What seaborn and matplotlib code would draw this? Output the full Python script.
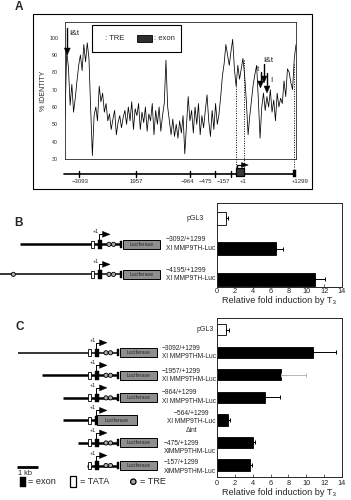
import numpy as np
import pandas as pd
import matplotlib
matplotlib.use('Agg')
import matplotlib.pyplot as plt
import seaborn as sns
from matplotlib.patches import Rectangle, Circle, Polygon

# ---- data ----
# panel A: % identity along the aligned promoter / intron region
identity = [53, 92, 83, 61, 73, 57, 65, 75, 84, 90, 81, 96, 86, 97, 88, 59, 32,
            55, 60, 52, 72, 63, 68, 57, 62, 52, 56, 47, 53, 58, 44, 51, 55, 48, 54,
            58, 50, 60, 52, 63, 47, 59, 55, 62, 47, 57, 51, 60, 46, 56, 52, 62, 44,
            58, 50, 60, 46, 55, 62, 87, 60, 52, 44, 53, 43, 50, 42, 52, 45,
            55, 33, 50, 66, 52, 58, 45, 60, 50, 62, 44, 55, 48, 58, 67, 52, 43, 58,
            47, 62, 50, 56, 66, 78, 85, 96, 90, 84, 92, 99, 82, 72, 84, 76, 82, 88,
            78, 63, 44, 55, 64, 73, 79, 84, 64, 42, 60, 68, 58, 66, 60, 70, 57, 64,
            52, 68, 60, 65, 62, 75, 66, 82, 80, 74, 70, 88, 96]
identity_ticks = [30, 40, 50, 60, 70, 80, 90, 100]
map_labels = ['\u22123093', '1957', '\u2212964', '\u2212475', '\u2212157', '+1', '+1299']

# panel B
b_names = ['pGL3', '\u22123092/+1299\nXl MMP9TH-Luc', '\u22124195/+1299\nXl MMP9TH-Luc']
b_fold = [1.05, 6.6, 10.95]
b_err = [0.2, 0.75, 1.1]

# panel C
c_names = ['pGL3', '\u22123092/+1299\nXl MMP9THM-Luc', '\u22121957/+1299\nXl MMP9THM-Luc',
           '\u2212864/+1299\nXl MMP9THM-Luc', '\u2212564/+1299\nXl MMP9TH-Luc\n\u0394int',
           '\u2212475/+1299\nXlMMP9THM-Luc', '\u2212157/+1299\nXlMMP9THM-Luc']
c_fold = [1.05, 10.7, 7.15, 5.35, 1.25, 4.0, 3.65]
c_err = [0.3, 2.6, 2.8, 1.75, 0.2, 0.3, 0.27]
fold_ticks = [0, 2, 4, 6, 8, 10, 12, 14]

sns.set_style('ticks')
plt.rcParams['font.family'] = ['Liberation Sans', 'DejaVu Sans']

W, H = 351, 500
fig = plt.figure(figsize=(W / 100, H / 100), dpi=100)


def px_axes(l, t, r, b):
    return fig.add_axes([l / W, 1 - b / H, (r - l) / W, (b - t) / H])


# ---------------- panel A ----------------
axA = px_axes(65, 22, 296, 159)
xs = np.arange(len(identity))
sns.lineplot(x=xs, y=identity, ax=axA, color='black', lw=0.55)
axA.set_xlim(0, len(identity) - 1)
axA.set_ylim(30, 109)
axA.set_xticks([])
axA.set_yticks(identity_ticks)
axA.tick_params(axis='y', length=0, pad=5, labelsize=3.8)
for s in axA.spines.values():
    s.set_linewidth(0.6)
axA.set_ylabel('% IDENTITY', fontsize=5)
axA.yaxis.set_label_coords(-0.078, 0.5)

# ---------------- bar panels ----------------
def bar_panel(box, names, vals, errs, width, ylim, err_colors, tick_pad):
    ax = px_axes(*box)
    df = pd.DataFrame({'construct': names, 'fold': vals})
    pal = {n: ('white' if n == 'pGL3' else 'black') for n in names}
    sns.barplot(data=df, x='fold', y='construct', hue='construct', palette=pal,
                width=width, edgecolor='black', linewidth=0.6, errorbar=None,
                legend=False, ax=ax)
    for i, (v, e) in enumerate(zip(vals, errs)):
        ax.errorbar(v, i, xerr=[[0], [e]], color=err_colors[i], lw=0.7,
                    capsize=1.3, capthick=0.7)
    ax.set_xlim(0, 14)
    ax.set_ylim(*ylim)
    ax.set_xticks(fold_ticks)
    ax.set_yticks([])
    ax.set_ylabel('')
    ax.set_xlabel('Relative fold induction by T\u2083', fontsize=6.6, labelpad=0.5)
    ax.tick_params(axis='x', direction='in', length=2, width=0.5, pad=tick_pad, labelsize=5.3)
    for s in ax.spines.values():
        s.set_linewidth(0.7)
    return ax


axB = bar_panel((217, 203, 342, 287), b_names, b_fold, b_err, 0.43, (2.25, -0.5),
                ['black'] * 3, 1)
axC = bar_panel((217, 318, 342, 476.5), c_names, c_fold, c_err, 0.5, (6.51, -0.52),
                ['black', 'black', '#b5b5b5', 'black', 'black', 'black', 'black'], 2.5)

# ---------------- overlay for schematics ----------------
ov = fig.add_axes([0, 0, 1, 1], zorder=10)
ov.set_xlim(0, W)
ov.set_ylim(H, 0)
ov.axis('off')


def row_y(ax, i):
    return H - ax.transData.transform((0, i))[1]


def down_arrow(x, y0, y1, w=3, hl=7):
    ov.plot([x, x], [y0, y1 - hl], color='k', lw=1.0)
    ov.add_patch(Polygon([(x - w, y1 - hl), (x + w, y1 - hl), (x, y1)], closed=True,
                         fc='k', ec='k', lw=0.3))


# outer frame and panel letters
ov.add_patch(Rectangle((33.3, 14), 278.4, 175.3, fill=False, ec='k', lw=0.8))
ov.text(19, 7, 'A', fontsize=8.5, fontweight='bold', ha='center', va='center')
ov.text(18.3, 223, 'B', fontsize=8.5, fontweight='bold', ha='center', va='center')
ov.text(19.5, 326.5, 'C', fontsize=8.5, fontweight='bold', ha='center', va='center')

# legend box in A
ov.add_patch(Rectangle((92, 25), 89, 27, fc='white', ec='k', lw=0.8, zorder=5))
down_arrow(101, 28.5, 48.5)
ov.text(105, 38.5, ': TRE', fontsize=5.5, va='center', zorder=6)
ov.add_patch(Rectangle((137, 34.5), 15, 7.5, fc='#2e2e2e', ec='k', lw=0.6, zorder=6))
ov.text(154, 38.5, ': exon', fontsize=5.5, va='center', zorder=6)

# TRE arrows on the identity plot
down_arrow(67.3, 28, 55)
ov.text(74, 33.5, 'I&t', fontsize=6, ha='center', va='center')
down_arrow(260.5, 72, 88)
down_arrow(264, 64, 83)
down_arrow(267, 73, 93)
ov.text(268, 60.5, 'I&t', fontsize=6, ha='center', va='center')
ov.text(258, 69.5, 't', fontsize=6, ha='center', va='center')
ov.text(271, 80, 'I', fontsize=6, ha='center', va='center')

# dotted guides from the plot to the gene map
for x, y0, y1 in [(235.7, 81, 169), (244, 60, 169), (293.5, 64, 169)]:
    ov.plot([x, x], [y0, y1], color='k', lw=0.7, ls=(0, (1, 1.5)))

# gene map
gy = 173.5
ov.plot([64, 294], [gy, gy], color='k', lw=1.2)
for x in [79, 136, 190, 215.3, 230.7]:
    ov.plot([x, x], [gy - 3, gy + 3], color='k', lw=1.0)
ov.add_patch(Rectangle((293.3, 169.5), 2.7, 7.2, fc='k', ec='k', lw=0.3))
ov.add_patch(Rectangle((235.7, 168.3), 8.6, 7.7, fc='#3a3a3a', ec='k', lw=0.9, zorder=4))
ov.plot([237, 237, 242], [168.3, 165, 165], color='k', lw=0.9)
ov.add_patch(Polygon([(241.5, 162.5), (241.5, 167.5), (248.3, 165)], closed=True, fc='k', ec='k', lw=0.3))
for lab, x in zip(map_labels, [80, 136.7, 187, 205.7, 223, 243, 300]):
    ov.text(x, 181.5, lab, fontsize=4.3, ha='center', va='center')


def construct(y, start, dx=0.0, lw=1.8, deletion=False, extra_tre=None):
    if deletion:
        ov.plot([start, 97 + dx], [y, y], color='k', lw=lw, solid_capstyle='butt', zorder=2)
    else:
        ov.plot([start, 118 + dx], [y, y], color='k', lw=lw, solid_capstyle='butt', zorder=2)
    if extra_tre is not None:
        ov.add_patch(Circle((extra_tre, y), 2.1, fc='#a8a8a8', ec='k', lw=0.6, zorder=3))
    ov.add_patch(Rectangle((88 + dx, y - 3.5), 3.3, 7, fc='white', ec='k', lw=0.6, zorder=3))
    ov.add_patch(Rectangle((94.5 + dx, y - 4.2), 4.5, 8.4, fc='k', ec='k', lw=0.3, zorder=3))
    ov.plot([95.5 + dx, 95.5 + dx, 99.5 + dx], [y - 4, y - 10, y - 10], color='k', lw=0.7, zorder=3)
    ov.add_patch(Polygon([(99.5 + dx, y - 13), (99.5 + dx, y - 7), (107 + dx, y - 10)],
                         closed=True, fc='k', ec='k', lw=0.3, zorder=3))
    ov.text(92.5 + dx, y - 12.5, '+1', fontsize=4, ha='center', va='center')
    if deletion:
        ov.add_patch(Rectangle((97 + dx, y - 5), 40, 10, fc='#8f8f8f', ec='k', lw=0.7, zorder=3))
        ov.text(117 + dx, y, 'Luciferase', fontsize=3.7, ha='center', va='center', zorder=4)
        return
    for cx in (106 + dx, 110.5 + dx):
        ov.add_patch(Circle((cx, y), 2.1, fc='#a8a8a8', ec='k', lw=0.6, zorder=3))
    ov.add_patch(Rectangle((116.5 + dx, y - 3.5), 2.5, 7, fc='k', ec='k', lw=0.3, zorder=3))
    ov.add_patch(Rectangle((120 + dx, y - 4.5), 37, 9, fc='#8f8f8f', ec='k', lw=0.7, zorder=3))
    ov.text(138.5 + dx, y, 'Luciferase', fontsize=3.7, ha='center', va='center', zorder=4)


# panel B constructs and labels
construct(row_y(axB, 1) - 4.5, 20, dx=3, lw=1.8)
construct(row_y(axB, 2) - 5, 0, dx=3, lw=1.1, extra_tre=13.3)
ov.text(204, row_y(axB, 0), b_names[0], fontsize=5.0, ha='right', va='center')
for i in (1, 2):
    ov.text(215.5, row_y(axB, i) - 5, b_names[i], fontsize=4.9, ha='right', va='center',
            multialignment='left', linespacing=1.3)

# panel C constructs and labels
c_starts = [18.3, 42.3, 63.3, 63.3, 77.7, 86.5]
c_lw = [1.1, 1.8, 1.8, 1.8, 1.8, 1.8]
for k, (st, lw) in enumerate(zip(c_starts, c_lw)):
    construct(row_y(axC, k + 1) + 0.5, st, lw=lw, deletion=(k == 3))
ov.text(214, row_y(axC, 0), c_names[0], fontsize=5.0, ha='right', va='center')
c_off = [0, 0, 0.5, -0.5, 2, 5, 2]
for i in range(1, len(c_names)):
    ov.text(215.5, row_y(axC, i) + c_off[i], c_names[i], fontsize=4.8, ha='right',
            va='center', multialignment='center' if i == 4 else 'left', linespacing=1.3)

# scale bar and key
ov.plot([17.3, 38.3], [466.7, 466.7], color='k', lw=2, solid_capstyle='butt')
ov.text(18.3, 473.5, '1 kb', fontsize=5.3, ha='left', va='center')
ov.add_patch(Rectangle((20, 476.7), 6, 10, fc='k', ec='k', lw=0.3))
ov.text(28.5, 482, '= exon', fontsize=6.6, ha='left', va='center')
ov.add_patch(Rectangle((70.3, 475.7), 5.3, 11.5, fc='white', ec='k', lw=0.9))
ov.text(80, 482, '= TATA', fontsize=6.6, ha='left', va='center')
ov.add_patch(Circle((133.3, 481.7), 2.7, fc='#a8a8a8', ec='k', lw=0.9))
ov.text(139.5, 482, '= TRE', fontsize=6.6, ha='left', va='center')

fig.savefig('out.png', dpi=100)
